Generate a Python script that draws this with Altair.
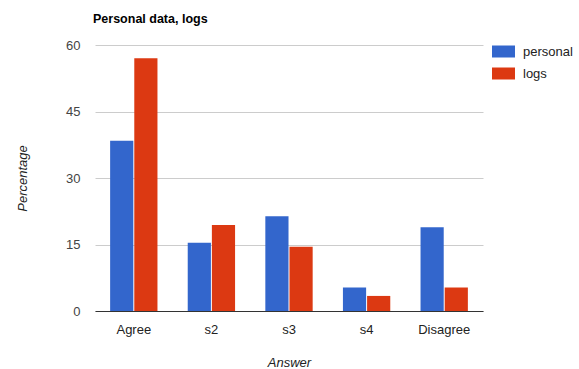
import altair as alt
import pandas as pd

answers = ["Agree", "s2", "s3", "s4", "Disagree"]
personal = [38.4, 15.4, 21.4, 5.3, 18.9]
logs = [57.0, 19.4, 14.5, 3.4, 5.3]
series = ["personal", "logs"]
colors = ["#3366CC", "#DC3912"]
y_ticks = [0, 15, 30, 45, 60]

rows = []
for a, p, l in zip(answers, personal, logs):
    rows.append({"Answer": a, "series": "personal", "value": p})
    rows.append({"Answer": a, "series": "logs", "value": l})
df = pd.DataFrame(rows)

font = "Liberation Sans"

chart = alt.Chart(df).mark_bar().encode(
    x=alt.X(
        "Answer:N",
        sort=answers,
        scale=alt.Scale(paddingInner=0.39, paddingOuter=0.195),
        axis=alt.Axis(
            title="Answer",
            labelAngle=0,
            ticks=False,
            domainColor="#333333",
            domainWidth=1,
            labelPadding=12,
            labelFont=font,
            labelFontSize=13,
            labelColor="#222222",
            titleFont=font,
            titleFontSize=13,
            titleFontStyle="italic",
            titleFontWeight="normal",
            titleColor="#222222",
            titleY=51,
            titleBaseline="middle",
            grid=False,
        ),
    ),
    xOffset=alt.XOffset("series:N", sort=series, scale=alt.Scale(paddingInner=0.04)),
    y=alt.Y(
        "value:Q",
        scale=alt.Scale(domain=[0, 60], nice=False),
        axis=alt.Axis(
            values=y_ticks,
            title="Percentage",
            ticks=False,
            domain=False,
            grid=True,
            gridColor="#cccccc",
            labelPadding=15,
            labelFont=font,
            labelFontSize=13,
            labelColor="#444444",
            titleFont=font,
            titleFontSize=13,
            titleFontStyle="italic",
            titleFontWeight="normal",
            titleColor="#222222",
            titleX=-73,
            titleY=133,
            titleAlign="center",
            titleBaseline="middle",
        ),
    ),
    color=alt.Color(
        "series:N",
        sort=series,
        scale=alt.Scale(domain=series, range=colors),
        legend=alt.Legend(
            title=None,
            orient="none",
            legendX=402,
            legendY=0,
            symbolType="M-1.92,-1L1.92,-1L1.92,1L-1.92,1Z",
            symbolSize=144,
            symbolStrokeWidth=0,
            labelFont=font,
            labelFontSize=13,
            labelColor="#222222",
            labelOffset=13,
            rowPadding=8,
        ),
    ),
).properties(
    width=388,
    height=266,
    padding={"left": 95, "top": 45, "right": 96, "bottom": 58},
    autosize="none",
    title=alt.TitleParams(
        "Personal data, logs",
        anchor="start",
        frame="group",
        font=font,
        fontSize=12.5,
        fontWeight="bold",
        color="#000000",
        dx=-2,
        offset=14,
    ),
).configure_view(stroke=None)

chart.save("out.html", embed_options={"renderer": "svg", "actions": False})
